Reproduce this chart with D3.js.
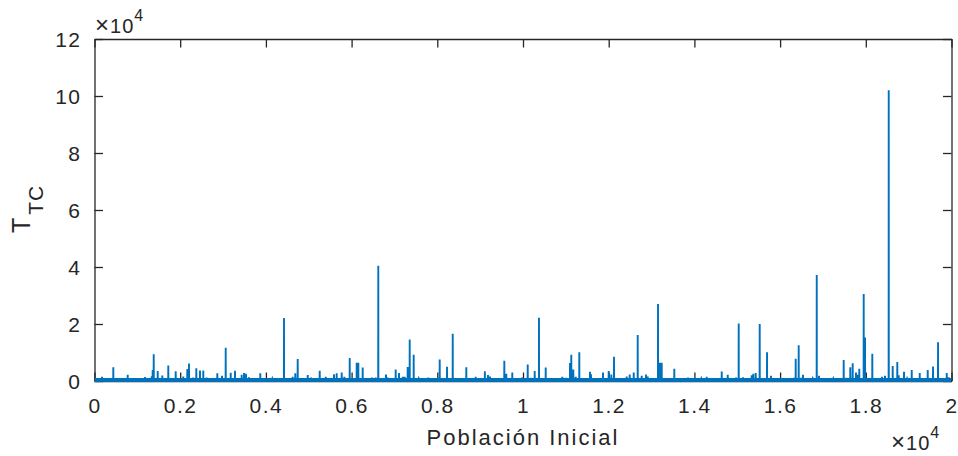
<!DOCTYPE html>
<html>
<head>
<meta charset="utf-8">
<script src="https://cdn.jsdelivr.net/npm/d3@7"></script>
<style>
  body { margin: 0; background: #fff; }
  text { font-family: "Liberation Sans", Arial, sans-serif; fill: #262626; }
</style>
</head>
<body>
<svg id="grafico"></svg>
<script>
// Picos de T_TC frente a la población inicial
const poblacion = [175, 439, 565, 775, 1179, 1335, 1358, 1382, 1475, 1582, 1722, 1778, 1895, 2072, 2166, 2205, 2306, 2376, 2462, 2539,
  2618, 2866, 2976, 3062, 3179, 3279, 3435, 3489, 3536, 3606, 3869, 4149, 4322, 4422, 4500, 4625, 4686, 4742, 4976, 5053,
  5256, 5396, 5480, 5589, 5652, 5769, 5830, 5956, 6119, 6157, 6259, 6476, 6563, 6623, 6803, 6843, 6966, 7029, 7106, 7193,
  7239, 7309, 7356, 7449, 7566, 7790, 8056, 8227, 8360, 8406, 8677, 8896, 9110, 9183, 9230, 9564, 9610, 9750, 9977, 10110,
  10187, 10273, 10373, 10530, 10871, 10917, 10997, 11097, 11127, 11174, 11230, 11314, 11564, 11587, 11781, 11867, 12000, 12061, 12124, 12420,
  12490, 12584, 12677, 12770, 12871, 12910, 13088, 13151, 13197, 13237, 13531, 13671, 13851, 13921, 14161, 14287, 14638, 14778, 14971, 15034,
  15134, 15337, 15375, 15431, 15524, 15624, 15695, 15788, 16154, 16231, 16325, 16364, 16434, 16488, 16535, 16761, 16855, 16908, 17242, 17484,
  17545, 17638, 17694, 17771, 17811, 17848, 17951, 17982, 18152, 18268, 18378, 18448, 18535, 18628, 18735, 18768, 18892, 18962, 19072, 19259,
  19352, 19445, 19569, 19686, 19889, 19935];
const tiempoTC = [1500, 4800, 1000, 2200, 1400, 1700, 3900, 9400, 3500, 1900, 5400, 1000, 3400, 1600, 4200, 6100, 1200, 4500, 3700, 3700,
  1200, 2700, 1800, 11700, 2900, 3600, 2200, 2800, 2500, 1300, 2700, 800, 900, 22100, 1000, 1500, 2700, 7700, 2100, 1200,
  3600, 1500, 1000, 2400, 2700, 3000, 1500, 8100, 6400, 6400, 4700, 1200, 1200, 40400, 2300, 1200, 900, 4000, 2800, 1500,
  1500, 4900, 14600, 9200, 800, 1200, 7500, 5000, 16600, 900, 4800, 1500, 3400, 2100, 1600, 7100, 2500, 3000, 1200, 5800,
  1100, 3500, 22200, 4700, 1000, 1500, 1100, 6300, 9200, 4000, 1500, 10100, 3200, 2400, 1000, 3000, 3500, 2300, 8500, 1600,
  2300, 3000, 16100, 1800, 2300, 1600, 700, 27000, 6400, 6400, 4300, 600, 1200, 900, 800, 1500, 3300, 2200, 1200, 20200,
  1300, 2000, 2500, 2800, 20000, 900, 10100, 1800, 1000, 1000, 1100, 7800, 12500, 1100, 2200, 800, 37200, 1800, 800, 7400,
  1100, 4800, 6200, 3000, 2200, 4300, 30500, 15300, 9600, 700, 1500, 1800, 102000, 5300, 6700, 2000, 3200, 800, 3900, 2800,
  900, 3900, 5100, 13600, 2800, 1300];
const nivelBase = 700; // ruido de fondo entre picos

const xTicks = [0, 2000, 4000, 6000, 8000, 10000, 12000, 14000, 16000, 18000, 20000];
const yTicks = [0, 20000, 40000, 60000, 80000, 100000, 120000];

// Tamaño del lienzo
const width = 958, height = 456;
const mLeft = 94.5, mRight = 951.5, mTop = 39, mBottom = 381;
const colorEjes = "#262626";
const colorDatos = "#0072BD";

const svg = d3.select("#grafico").attr("width", width).attr("height", height);

const x = d3.scaleLinear().domain([0, 20000]).range([mLeft, mRight]);
const y = d3.scaleLinear().domain([0, 120000]).range([mBottom, mTop]);

// Puntos de la serie: fondo, pico, fondo
const puntos = [{ p: 0, t: nivelBase }];
poblacion.forEach((p, i) => {
  puntos.push({ p: p - 2, t: nivelBase });
  puntos.push({ p: p, t: tiempoTC[i] });
  puntos.push({ p: p + 2, t: nivelBase });
});
puntos.push({ p: 20000, t: nivelBase });

svg.append("clipPath").attr("id", "recorte")
  .append("rect")
  .attr("x", mLeft).attr("y", mTop)
  .attr("width", mRight - mLeft).attr("height", mBottom - mTop + 2);

// Ejes (caja con marcas hacia dentro)
const fmt = d => String(+(d / 10000).toFixed(1));
const tickLen = 8.5;

const gx = svg.append("g").attr("transform", `translate(0,${mBottom})`)
  .call(d3.axisBottom(x).tickValues(xTicks).tickSizeInner(-tickLen).tickSizeOuter(0).tickPadding(17).tickFormat(fmt));
const gxTop = svg.append("g").attr("transform", `translate(0,${mTop})`)
  .call(d3.axisTop(x).tickValues(xTicks).tickSizeInner(-tickLen).tickSizeOuter(0).tickFormat(""));
const gy = svg.append("g").attr("transform", `translate(${mLeft},0)`)
  .call(d3.axisLeft(y).tickValues(yTicks).tickSizeInner(-tickLen).tickSizeOuter(0).tickPadding(13).tickFormat(fmt));
const gyRight = svg.append("g").attr("transform", `translate(${mRight},0)`)
  .call(d3.axisRight(y).tickValues(yTicks).tickSizeInner(-tickLen).tickSizeOuter(0).tickFormat(""));

[gx, gxTop, gy, gyRight].forEach(g => {
  g.select(".domain").attr("stroke", colorEjes).attr("stroke-width", 1.3);
  g.selectAll(".tick line").attr("stroke", colorEjes).attr("stroke-width", 1.3);
  g.selectAll(".tick text")
    .attr("fill", colorEjes)
    .style("font-family", "'Liberation Sans', Arial, sans-serif")
    .style("font-size", "21px")
    .style("letter-spacing", "1.5px");
});
gy.selectAll(".tick text").attr("dy", "0.36em");

// Serie encima de los ejes
const serie = svg.append("g").attr("clip-path", "url(#recorte)");

serie.append("path")
  .datum(puntos)
  .attr("fill", colorDatos)
  .attr("d", d3.area().x(d => x(d.p)).y0(y(0) + 1).y1(d => y(d.t)));

serie.append("path")
  .datum(puntos)
  .attr("fill", "none")
  .attr("stroke", colorDatos)
  .attr("stroke-width", 1.9)
  .attr("d", d3.line().x(d => x(d.p)).y(d => y(d.t)));

// Multiplicadores ×10^4
function multiplicador(px, py) {
  const t = svg.append("text").attr("x", px).attr("y", py)
    .style("font-size", "20px").style("letter-spacing", "1px");
  t.append("tspan").style("font-size", "24px").text("×");
  t.append("tspan").text("10");
  t.append("tspan").attr("dy", -12).style("font-size", "16px").text("4");
}
multiplicador(95, 32.5);
multiplicador(891, 450);

// Título del eje X
svg.append("text")
  .attr("x", (mLeft + mRight) / 2)
  .attr("y", 445)
  .attr("text-anchor", "middle")
  .style("font-size", "22px")
  .style("letter-spacing", "2px")
  .text("Población Inicial");

// Título del eje Y: T con subíndice TC
const ylab = svg.append("text")
  .attr("transform", "translate(30,233) rotate(-90)")
  .style("font-size", "25px");
ylab.append("tspan").text("T");
ylab.append("tspan").attr("dy", 13).attr("dx", 3).style("font-size", "21px").style("letter-spacing", "1px").text("TC");
</script>
</body>
</html>
